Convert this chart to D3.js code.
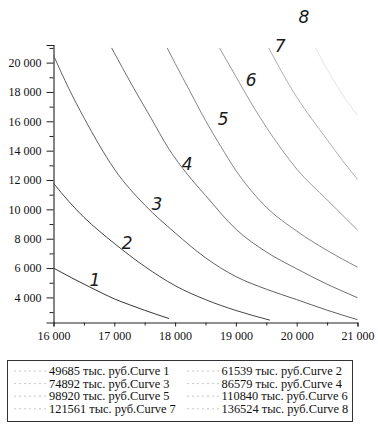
<!DOCTYPE html>
<html><head><meta charset="utf-8">
<script src="https://cdn.jsdelivr.net/npm/d3@7"></script>
<style>
body{margin:0;background:#fff;}
svg{display:block;}
.serif{font-family:"Liberation Serif","Times New Roman",serif;}
</style></head>
<body>
<svg id="chart" width="378" height="433"></svg>
<script>
// ---- data ----
const curve1 = [[16000,6000],[16300,5330],[16600,4700],[16800,4290],[17000,3900],[17250,3500],[17500,3120],[17900,2560]];
const curve2 = [[16000,11780],[16250,10550],[16500,9460],[16750,8530],[17000,7680],[17500,6110],[18000,4800],[18500,3850],[19000,3110],[19560,2450]];
const curve3 = [[16000,20500],[16250,18250],[16500,16250],[16750,14400],[17000,12750],[17500,10300],[18000,8400],[18500,6700],[19000,5420],[19500,4560],[20000,3850],[20500,3130],[21000,2480]];
const curve4 = [[16956,21000],[17300,18400],[17600,16250],[17900,14100],[18200,12400],[18500,10950],[19000,8650],[19500,7100],[20000,5950],[20500,4900],[21000,3980]];
const curve5 = [[17870,21000],[18000,19950],[18250,18000],[18500,16050],[18750,14300],[19000,12650],[19500,10150],[20000,8520],[20500,7200],[21000,6060]];
const curve6 = [[18730,21000],[19000,19050],[19250,17250],[19500,15600],[19750,14100],[20000,12750],[20500,10650],[21000,8590]];
const curve7 = [[19540,21000],[19750,19400],[20000,17650],[20250,16150],[20500,14750],[20750,13350],[21000,12050]];
const curve8 = [[20310,21000],[20500,19550],[20750,17850],[21000,16400]];
const curves = [curve1, curve2, curve3, curve4, curve5, curve6, curve7, curve8];

const outputValues = [49685, 61539, 74892, 86579, 98920, 110840, 121561, 136524];
const curveNames = ["Curve 1","Curve 2","Curve 3","Curve 4","Curve 5","Curve 6","Curve 7","Curve 8"];
const unitLabel = "тыс. руб.";

const xTicks = [16000, 17000, 18000, 19000, 20000, 21000];
const xMinorTicks = [16500, 17500, 18500, 19500, 20500];
const yTicks = [4000, 6000, 8000, 10000, 12000, 14000, 16000, 18000, 20000];
const yMinorTicks = [3000, 5000, 7000, 9000, 11000, 13000, 15000, 17000, 19000, 21000];

// handwritten curve numbers (data coordinates)
const noteText = ["1","2","3","4","5","6","7","8"];
const notePos = [[16680,5190],[17210,7710],[17700,10370],[18200,13090],[18790,16160],[19250,18820],[19730,21130],[20120,23110]];

// ---- drawing ----
const svg = d3.select("#chart");
const x = d3.scaleLinear().domain([16000, 21000]).range([53.5, 357.5]);
const y = d3.scaleLinear().domain([2290, 21200]).range([322.5, 45]);

const loc = d3.formatLocale({decimal: ",", thousands: " ", grouping: [3], currency: ["", ""]});
const fmt = loc.format(",d");

const strokeCols = ["#353535","#454545","#606060","#707070","#858585","#999999","#b0b0b0","#e4e4e4"];

// axes
const gx = svg.append("g").attr("transform", `translate(0,322.5)`);
gx.call(d3.axisBottom(x).tickValues(xTicks).tickSize(4).tickFormat(fmt));
const gxm = svg.append("g").attr("transform", `translate(0,322.5)`);
gxm.call(d3.axisBottom(x).tickValues(xMinorTicks).tickSize(3).tickFormat(""));
gxm.select(".domain").remove();

const gy = svg.append("g").attr("transform", `translate(53.5,0)`);
gy.call(d3.axisLeft(y).tickValues(yTicks).tickSize(7).tickPadding(5).tickFormat(fmt));
const gym = svg.append("g").attr("transform", `translate(53.5,0)`);
gym.call(d3.axisLeft(y).tickValues(yMinorTicks).tickSize(4).tickFormat(""));
gym.select(".domain").remove();

svg.selectAll("g").attr("font-family", null);
svg.selectAll(".domain").attr("stroke", "#222").attr("stroke-width", 1.1);
svg.selectAll(".tick line").attr("stroke", "#222");
svg.selectAll(".tick text").attr("class", "serif").style("font-size", "12px").attr("fill", "#111");
gx.selectAll(".tick text").attr("y", 17.5).attr("dy", 0);

// curves
const line = d3.line().x(d => x(d[0])).y(d => y(d[1])).curve(d3.curveMonotoneX);
svg.append("g").selectAll("path").data(curves).join("path")
  .attr("d", line)
  .attr("fill", "none")
  .attr("stroke", (d, i) => strokeCols[i])
  .attr("stroke-width", 1);

// handwritten numbers
svg.append("g").selectAll("text").data(noteText).join("text")
  .attr("x", (d, i) => x(notePos[i][0]))
  .attr("y", (d, i) => y(notePos[i][1]))
  .attr("text-anchor", "middle")
  .attr("dominant-baseline", "central")
  .style("font-family", "'DejaVu Sans', sans-serif")
  .style("font-style", "italic")
  .style("font-size", "17px")
  .attr("fill", "#1a1a1a")
  .text(d => d);

// legend
const lg = svg.append("g");
lg.append("rect").attr("x", 7.5).attr("y", 360.5).attr("width", 345).attr("height", 61)
  .attr("fill", "none").attr("stroke", "#333").attr("stroke-width", 1);
const colText = [49, 221.5];
const colLine = [[14, 46], [187, 219]];
const rowBase = [375, 387.6, 400.2, 412.8];
outputValues.forEach((v, i) => {
  const c = i % 2, r = Math.floor(i / 2);
  lg.append("line")
    .attr("x1", colLine[c][0]).attr("x2", colLine[c][1])
    .attr("y1", rowBase[r] - 4).attr("y2", rowBase[r] - 4)
    .attr("stroke", "#c8c8c8").attr("stroke-width", 1).attr("stroke-dasharray", "2,3");
  lg.append("text")
    .attr("x", colText[c]).attr("y", rowBase[r])
    .attr("class", "serif").style("font-size", "12.4px").attr("fill", "#111")
    .text(`${v} ${unitLabel}${curveNames[i]}`);
});
</script>
</body></html>
